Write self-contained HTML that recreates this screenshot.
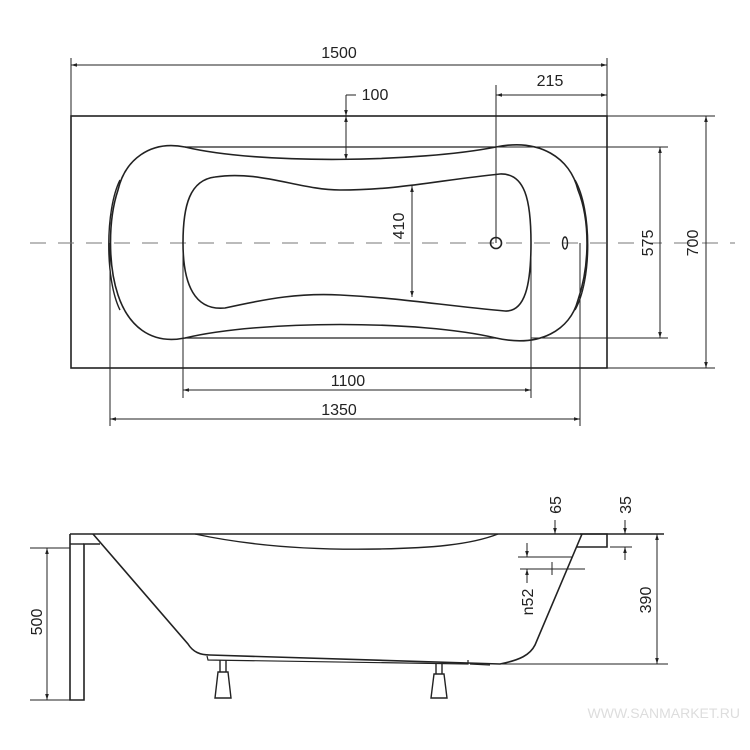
<!DOCTYPE html>
<html><head><meta charset="utf-8"><style>
html,body{margin:0;padding:0;background:#fff;}
svg{display:block;}
text{font-family:"Liberation Sans",sans-serif;font-size:16px;fill:#222;}
</style></head><body>
<svg width="750" height="750" viewBox="0 0 750 750" xmlns="http://www.w3.org/2000/svg">
<defs>
<marker id="a" viewBox="0 0 10 10" refX="10" refY="5" markerWidth="6" markerHeight="6" orient="auto-start-reverse"><path d="M0,2 L10,5 L0,8 z" fill="#222"/></marker>
</defs>
<g stroke="#222" fill="none" stroke-width="1">
<rect x="71" y="116" width="536" height="252" stroke-width="1.6"/>
<line x1="30" y1="243" x2="735" y2="243" stroke="#777" stroke-dasharray="16,12"/>
<path d="M185,147 C150,140 125,160 118,190 C108,220 108,265 118,295 C128,325 150,345 185,338 C260,320 420,320 496,338 C540,348 570,330 578,300 C590,265 590,220 578,190 C570,158 540,138 496,147 C420,162 260,165 185,147 Z" stroke-width="1.6"/>
<path d="M120,180 C105,210 105,280 120,310" stroke-width="1.4"/>
<path d="M575,180 C592,210 592,280 575,310" stroke-width="1.4"/>
<line x1="185" y1="147" x2="496" y2="147" stroke-width="1.2"/>
<line x1="185" y1="338" x2="496" y2="338" stroke-width="1.2"/>
<path d="M215,177 C190,180 183,205 183,243 C183,285 195,311 225,308 C270,298 300,293 340,295 C400,298 440,305 505,311 C525,312 531,285 531,243 C531,200 525,173 500,174 C440,180 400,190 340,190 C300,190 260,170 215,177 Z" stroke-width="1.6"/>
<circle cx="496" cy="243" r="5.5" stroke-width="1.6"/>
<ellipse cx="565" cy="243" rx="2.5" ry="6" stroke-width="1.4"/>
<line x1="71" y1="58" x2="71" y2="116"/><line x1="607" y1="58" x2="607" y2="116"/>
<line x1="496" y1="85" x2="496" y2="243"/>
<line x1="607" y1="116" x2="715" y2="116"/><line x1="607" y1="368" x2="715" y2="368"/>
<line x1="496" y1="147" x2="668" y2="147"/><line x1="531" y1="338" x2="668" y2="338"/>
<line x1="183" y1="243" x2="183" y2="398"/><line x1="531" y1="243" x2="531" y2="398"/>
<line x1="110" y1="243" x2="110" y2="426"/><line x1="580" y1="243" x2="580" y2="426"/>
<line x1="71" y1="65" x2="607" y2="65" marker-start="url(#a)" marker-end="url(#a)"/>
<line x1="496" y1="95" x2="607" y2="95" marker-start="url(#a)" marker-end="url(#a)"/>
<line x1="346" y1="95" x2="346" y2="116" marker-end="url(#a)"/>
<line x1="346" y1="116" x2="346" y2="160" marker-start="url(#a)" marker-end="url(#a)"/>
<line x1="346" y1="95" x2="356" y2="95"/>
<line x1="412" y1="186" x2="412" y2="297" marker-start="url(#a)" marker-end="url(#a)"/>
<line x1="660" y1="147" x2="660" y2="338" marker-start="url(#a)" marker-end="url(#a)"/>
<line x1="706" y1="116" x2="706" y2="368" marker-start="url(#a)" marker-end="url(#a)"/>
<line x1="183" y1="390" x2="531" y2="390" marker-start="url(#a)" marker-end="url(#a)"/>
<line x1="110" y1="419" x2="580" y2="419" marker-start="url(#a)" marker-end="url(#a)"/>
<line x1="70" y1="534" x2="664" y2="534" stroke-width="1.4"/>
<path d="M70,534 L70,700 L84,700 L84,544 L100,544" stroke-width="1.6"/>
<line x1="70" y1="544" x2="84" y2="544" stroke-width="1.4"/>
<path d="M93,534 L188,644 C193,652 200,655 210,655 L500,664 C520,660 530,655 535,645 L582,534" stroke-width="1.6"/>
<path d="M580,534 L607,534 L607,547 L576,547" stroke-width="1.6"/>
<path d="M195,534 C260,548 330,550 380,549 C430,548 470,545 498,534" stroke-width="1.4"/>
<path d="M207,656 L208,660 L468,664 L468,660" stroke-width="1.2"/>
<line x1="470" y1="664" x2="490" y2="665" stroke-width="1.2"/>
<path d="M220,660 L220,672 M226,660 L226,672 M218,672 L228,672 L231,698 L215,698 Z" stroke-width="1.4"/>
<path d="M436,664 L436,674 M442,664 L442,674 M434,674 L444,674 L447,698 L431,698 Z" stroke-width="1.4"/>
<line x1="30" y1="548" x2="70" y2="548"/><line x1="30" y1="700" x2="70" y2="700"/>
<line x1="47" y1="548" x2="47" y2="700" marker-start="url(#a)" marker-end="url(#a)"/>
<line x1="500" y1="664" x2="668" y2="664"/>
<line x1="657" y1="534" x2="657" y2="664" marker-start="url(#a)" marker-end="url(#a)"/>
<line x1="555" y1="520" x2="555" y2="534" marker-end="url(#a)"/>
<line x1="625" y1="520" x2="625" y2="534" marker-end="url(#a)"/>
<line x1="625" y1="560" x2="625" y2="547" marker-end="url(#a)"/>
<line x1="610" y1="547" x2="632" y2="547"/>
<line x1="518" y1="557" x2="572" y2="557"/>
<line x1="520" y1="569" x2="585" y2="569"/>
<line x1="552" y1="562" x2="552" y2="575"/>
<line x1="527" y1="543" x2="527" y2="557" marker-end="url(#a)"/>
<line x1="527" y1="583" x2="527" y2="569" marker-end="url(#a)"/>
</g>
<g>
<text x="339" y="58" text-anchor="middle">1500</text>
<text x="550" y="86" text-anchor="middle">215</text>
<text x="375" y="100" text-anchor="middle">100</text>
<text x="348" y="386" text-anchor="middle">1100</text>
<text x="339" y="415" text-anchor="middle">1350</text>
<text transform="translate(404,226) rotate(-90)" text-anchor="middle">410</text>
<text transform="translate(653,243) rotate(-90)" text-anchor="middle">575</text>
<text transform="translate(698,243) rotate(-90)" text-anchor="middle">700</text>
<text transform="translate(42,622) rotate(-90)" text-anchor="middle">500</text>
<text transform="translate(651,600) rotate(-90)" text-anchor="middle">390</text>
<text transform="translate(533,602) rotate(-90)" text-anchor="middle">n52</text>
<text transform="translate(561,505) rotate(-90)" text-anchor="middle">65</text>
<text transform="translate(631,505) rotate(-90)" text-anchor="middle">35</text>
<text x="740" y="718" text-anchor="end" style="fill:#ddd;font-size:14px">WWW.SANMARKET.RU</text>
</g>
</svg>
</body></html>
